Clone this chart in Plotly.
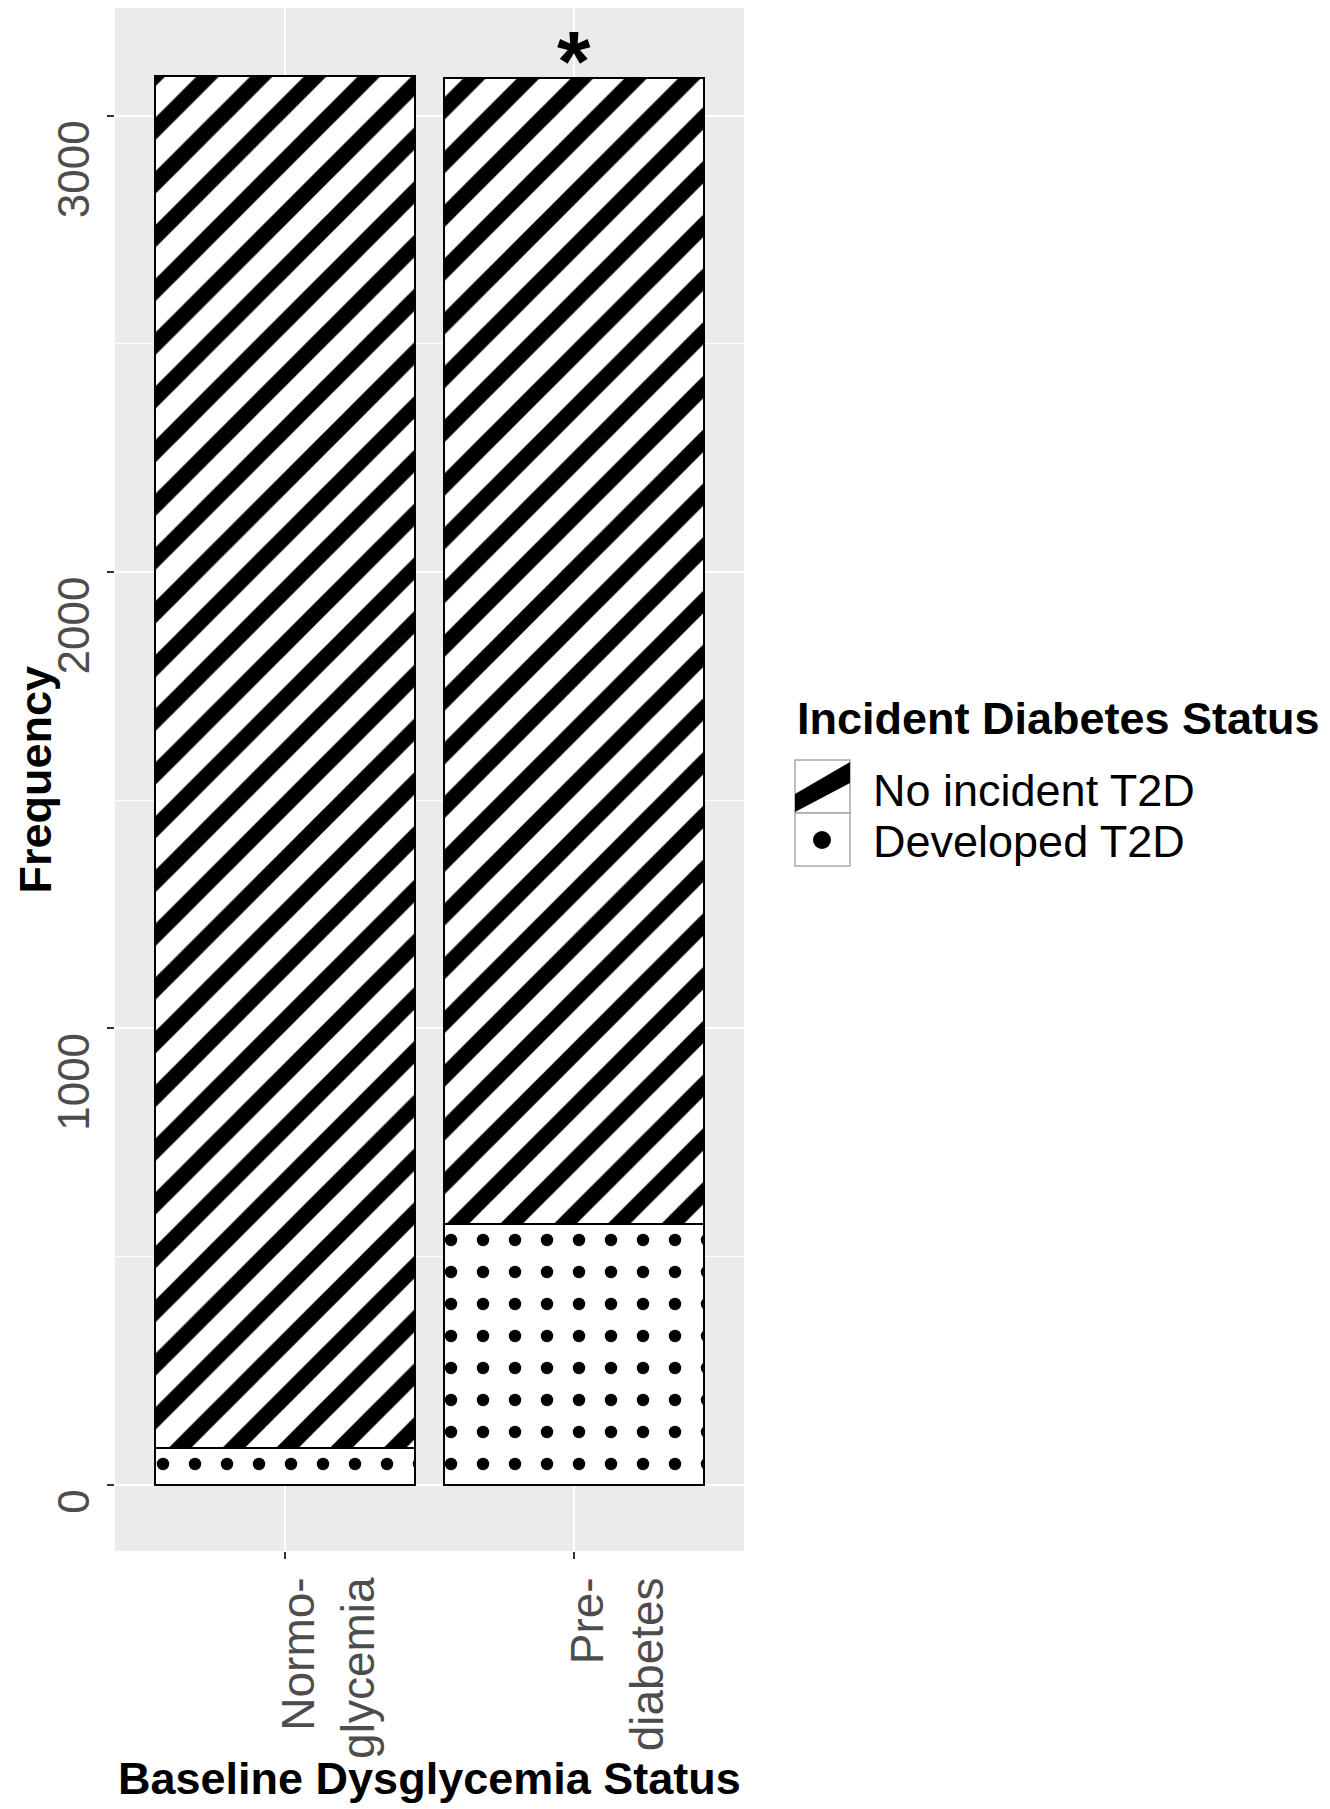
import plotly.graph_objects as go

categories = ["Normo-<br>glycemia", "Pre-<br>diabetes"]
developed_t2d = [80, 572]
no_incident_t2d = [3008, 2510]
y_ticks = [0, 1000, 2000, 3000]
series_names = ["Developed T2D", "No incident T2D"]
legend_title = "Incident Diabetes Status"

FONT = "Liberation Sans, Arial, Helvetica, sans-serif"
# the page body adds an 8px offset; figure sized to fit the window
W, H = 1322, 1801
OFF = 8
ML, MR, MT, MB = 107, 586, 0, 258

# plot area in page pixel coordinates
PX0, PX1 = ML + OFF, W - MR + OFF
PY0, PY1 = MT + OFF, H - MB + OFF


def pxx(px):
    return (px - PX0) / (PX1 - PX0)


def pxy(py):
    return (PY1 - py) / (PY1 - PY0)


totals = [a + b for a, b in zip(developed_t2d, no_incident_t2d)]
ymax = max(totals)
yrange = [-0.047 * ymax, 1.048 * ymax]

# labels are right-aligned at the tick (ggplot hjust=1): pad with figure spaces
width = max(len(str(v)) for v in y_ticks)
y_ticktext = [str(v).rjust(width, "\u2007") for v in y_ticks]

fig = go.Figure()
fig.add_trace(go.Bar(
    x=categories, y=developed_t2d, name=series_names[0], width=0.9, showlegend=False,
    marker=dict(color="white", line=dict(color="black", width=2.2),
                pattern=dict(shape=".", fgcolor="black", bgcolor="white",
                             size=32, solidity=0.12, fillmode="replace")),
))
fig.add_trace(go.Bar(
    x=categories, y=no_incident_t2d, name=series_names[1], width=0.9, showlegend=False,
    marker=dict(color="white", line=dict(color="black", width=2.2),
                pattern=dict(shape="/", fgcolor="black", bgcolor="white",
                             size=38, solidity=0.42, fillmode="replace")),
))

# significance marker
fig.add_annotation(x=categories[1], y=totals[1], text="<b>*</b>", showarrow=False,
                   yanchor="middle", yshift=17, font=dict(family=FONT, size=86, color="black"))

# axis titles
fig.add_annotation(xref="paper", yref="paper", x=0.5, y=pxy(1778), yanchor="middle",
                   text="<b>Baseline Dysglycemia Status</b>",
                   showarrow=False, font=dict(family=FONT, size=45, color="black"))
fig.add_annotation(xref="paper", yref="paper", x=pxx(35), y=0.5, xanchor="center",
                   textangle=-90, text="<b>Frequency</b>",
                   showarrow=False, font=dict(family=FONT, size=45, color="black"))

# legend (title, keys, labels)
fig.add_annotation(xref="paper", yref="paper", x=pxx(795), y=pxy(718), xanchor="left",
                   yanchor="middle", text="<b>" + legend_title + "</b>", showarrow=False,
                   font=dict(family=FONT, size=45, color="black"))
fig.add_annotation(xref="paper", yref="paper", x=pxx(871), y=pxy(790), xanchor="left",
                   yanchor="middle", text=series_names[1], showarrow=False,
                   font=dict(family=FONT, size=45, color="black"))
fig.add_annotation(xref="paper", yref="paper", x=pxx(871), y=pxy(841), xanchor="left",
                   yanchor="middle", text=series_names[0], showarrow=False,
                   font=dict(family=FONT, size=45, color="black"))

KX0, KX1 = 795, 850
KY = [760, 813, 866]
for i in range(2):
    fig.add_shape(type="rect", xref="paper", yref="paper",
                  x0=pxx(KX0), x1=pxx(KX1), y0=pxy(KY[i]), y1=pxy(KY[i + 1]),
                  fillcolor="white", line=dict(color="#A8A8A8", width=1.5), layer="above")
band = [(KX0, 794), (KX0, 812), (KX1, 783), (KX1, 762)]
fig.add_shape(type="path", xref="paper", yref="paper",
              path="M " + " L ".join(f"{pxx(a):.5f},{pxy(b):.5f}" for a, b in band) + " Z",
              fillcolor="black", line=dict(width=0), layer="above")
cx, cy, r = 822, 840, 9
fig.add_shape(type="circle", xref="paper", yref="paper",
              x0=pxx(cx - r), x1=pxx(cx + r), y0=pxy(cy + r), y1=pxy(cy - r),
              fillcolor="black", line=dict(width=0), layer="above")

fig.update_layout(
    width=W, height=H,
    margin=dict(l=ML, r=MR, t=MT, b=MB, autoexpand=False),
    paper_bgcolor="white", plot_bgcolor="#EBEBEB",
    barmode="stack", bargap=0.1,
    font=dict(family=FONT, size=42, color="black"),
    showlegend=False,
    xaxis=dict(
        type="category", range=[-0.59, 1.59],
        showgrid=True, gridcolor="white", gridwidth=2,
        zeroline=False, showline=False,
        ticks="outside", ticklen=7, tickwidth=2, tickcolor="#333333",
        tickangle=-90, ticklabelshift=44, ticklabelstandoff=0,
        tickfont=dict(family=FONT, size=46, color="#4D4D4D"),
        fixedrange=True,
    ),
    yaxis=dict(
        range=yrange, tickvals=y_ticks, ticktext=y_ticktext,
        showgrid=True, gridcolor="white", gridwidth=2,
        minor=dict(dtick=500, tick0=0, showgrid=True, gridcolor="white", gridwidth=1),
        zeroline=False, showline=False,
        ticks="outside", ticklen=7, tickwidth=2, tickcolor="#333333",
        tickangle=-90, ticklabelshift=60, ticklabelstandoff=0,
        tickfont=dict(family=FONT, size=44, color="#4D4D4D"),
        fixedrange=True,
    ),
)

fig.write_html("out.html")
